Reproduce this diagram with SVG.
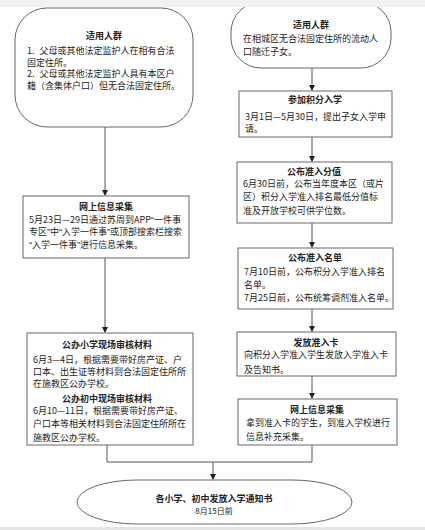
<svg xmlns="http://www.w3.org/2000/svg" width="425" height="530" viewBox="0 0 425 530">
<style>
.box{fill:#fff;stroke:#666;stroke-width:1}
.t{font-family:"Noto Sans CJK SC","Noto Sans",sans-serif;font-size:9px;fill:#222}
.b{font-weight:bold;text-anchor:middle}
.c{text-anchor:middle}
.q{font-family:"Liberation Sans",sans-serif}
.con{fill:none;stroke:#555;stroke-width:1}
</style>
<defs>
<marker id="ah" markerWidth="6" markerHeight="6" refX="5" refY="3" orient="auto" markerUnits="userSpaceOnUse">
<path d="M0,0 L6,3 L0,6 Z" fill="#222"/>
</marker>
</defs>
<rect x="0" y="0" width="425" height="530" fill="#fff"/>
<g id="connectors">
<line class="con" x1="105" y1="127" x2="105" y2="195" marker-end="url(#ah)"/>
<line class="con" x1="105" y1="258" x2="105" y2="332" marker-end="url(#ah)"/>
<line class="con" x1="312" y1="68" x2="312" y2="90" marker-end="url(#ah)"/>
<line class="con" x1="312" y1="137" x2="312" y2="161" marker-end="url(#ah)"/>
<line class="con" x1="312" y1="223" x2="312" y2="247" marker-end="url(#ah)"/>
<line class="con" x1="312" y1="309" x2="312" y2="331" marker-end="url(#ah)"/>
<line class="con" x1="312" y1="376" x2="312" y2="398" marker-end="url(#ah)"/>
<path class="con" d="M107,445 V462 H312 V445"/>
<line class="con" x1="213" y1="462" x2="213" y2="479" marker-end="url(#ah)"/>
</g>
<g id="left-start">
<rect class="box" x="15" y="8" width="178" height="119" rx="32" ry="32"/>
<text class="t b" x="104" y="38.5">适用人群</text>
<text class="t" x="27" y="54">1. <tspan dx="3">父母或其他法定监护人在相有合法</tspan></text>
<text class="t" x="27" y="65.5">固定住所。</text>
<text class="t" x="27" y="77">2. <tspan dx="3">父母或其他法定监护人具有本区户</tspan></text>
<text class="t" x="27" y="89">籍（含集体户口）但无合法固定住所。</text>
</g>
<g id="left-online">
<rect class="box" x="23" y="196" width="166" height="62"/>
<text class="t b" x="106" y="210">网上信息采集</text>
<text class="t" x="29" y="223">5月23日—29日通过苏周到APP<tspan class="q">“</tspan>一件事</text>
<text class="t" x="29" y="235">专区<tspan class="q">”</tspan>中<tspan class="q">“</tspan>入学一件事<tspan class="q">”</tspan>或顶部搜索栏搜索</text>
<text class="t" x="29" y="248"><tspan class="q">“</tspan>入学一件事<tspan class="q">”</tspan>进行信息采集。</text>
</g>
<g id="left-review">
<rect class="box" x="27" y="333" width="166" height="112"/>
<text class="t b" x="107" y="348">公办小学现场审核材料</text>
<text class="t" x="33" y="363">6月3—4日，根据需要带好房产证、户</text>
<text class="t" x="33" y="374.5">口本、出生证等材料到合法固定住所所</text>
<text class="t" x="33" y="387">在施教区公办学校。</text>
<text class="t b" x="107" y="402">公办初中现场审核材料</text>
<text class="t" x="33" y="413.5">6月10—11日，根据需要带好房产证、</text>
<text class="t" x="33" y="427">户口本等相关材料到合法固定住所所在</text>
<text class="t" x="33" y="441">施教区公办学校。</text>
</g>
<g id="right-start">
<rect class="box" x="231" y="2" width="160" height="66" rx="30" ry="30"/>
<text class="t b" x="311" y="28">适用人群</text>
<text class="t" x="243" y="42">在相城区无合法固定住所的流动人</text>
<text class="t" x="243" y="55">口随迁子女。</text>
</g>
<g id="right-apply">
<rect class="box" x="239" y="91" width="153" height="46"/>
<text class="t b" x="315" y="103">参加积分入学</text>
<text class="t" x="245" y="120">3月1日—5月30日，提出子女入学申</text>
<text class="t" x="245" y="132">请。</text>
</g>
<g id="right-score">
<rect class="box" x="237" y="162" width="155" height="61"/>
<text class="t b" x="314" y="175">公布准入分值</text>
<text class="t" x="243" y="187">6月30日前，公布当年度本区（或片</text>
<text class="t" x="243" y="200">区）积分入学准入排名最低分值标</text>
<text class="t" x="243" y="214">准及开放学校可供学位数。</text>
</g>
<g id="right-list">
<rect class="box" x="238" y="248" width="155" height="61"/>
<text class="t b" x="315" y="261">公布准入名单</text>
<text class="t" x="244" y="275">7月10日前，公布积分入学准入排名</text>
<text class="t" x="244" y="288">名单。</text>
<text class="t" x="244" y="301">7月25日前，公布统筹调剂准入名单。</text>
</g>
<g id="right-card">
<rect class="box" x="237" y="332" width="159" height="44"/>
<text class="t b" x="316" y="346">发放准入卡</text>
<text class="t" x="244" y="358">向积分入学准入学生发放入学准入卡</text>
<text class="t" x="244" y="373">及告知书。</text>
</g>
<g id="right-online">
<rect class="box" x="238" y="399" width="159" height="46"/>
<text class="t b" x="317" y="413">网上信息采集</text>
<text class="t" x="246" y="426">拿到准入卡的学生，到准入学校进行</text>
<text class="t" x="246" y="440">信息补充采集。</text>
</g>
<g id="end">
<rect class="box" x="77" y="480" width="275" height="44" rx="60" ry="22"/>
<text class="t b" x="214" y="502">各小学、初中发放入学通知书</text>
<text class="t c" x="214" y="514" style="font-size:8px">8月15日前</text>
</g>
<rect x="0" y="0" width="425" height="7" fill="#f0f1f5"/>
<rect x="0" y="527" width="425" height="3" fill="#e4e4e4"/>
</svg>
